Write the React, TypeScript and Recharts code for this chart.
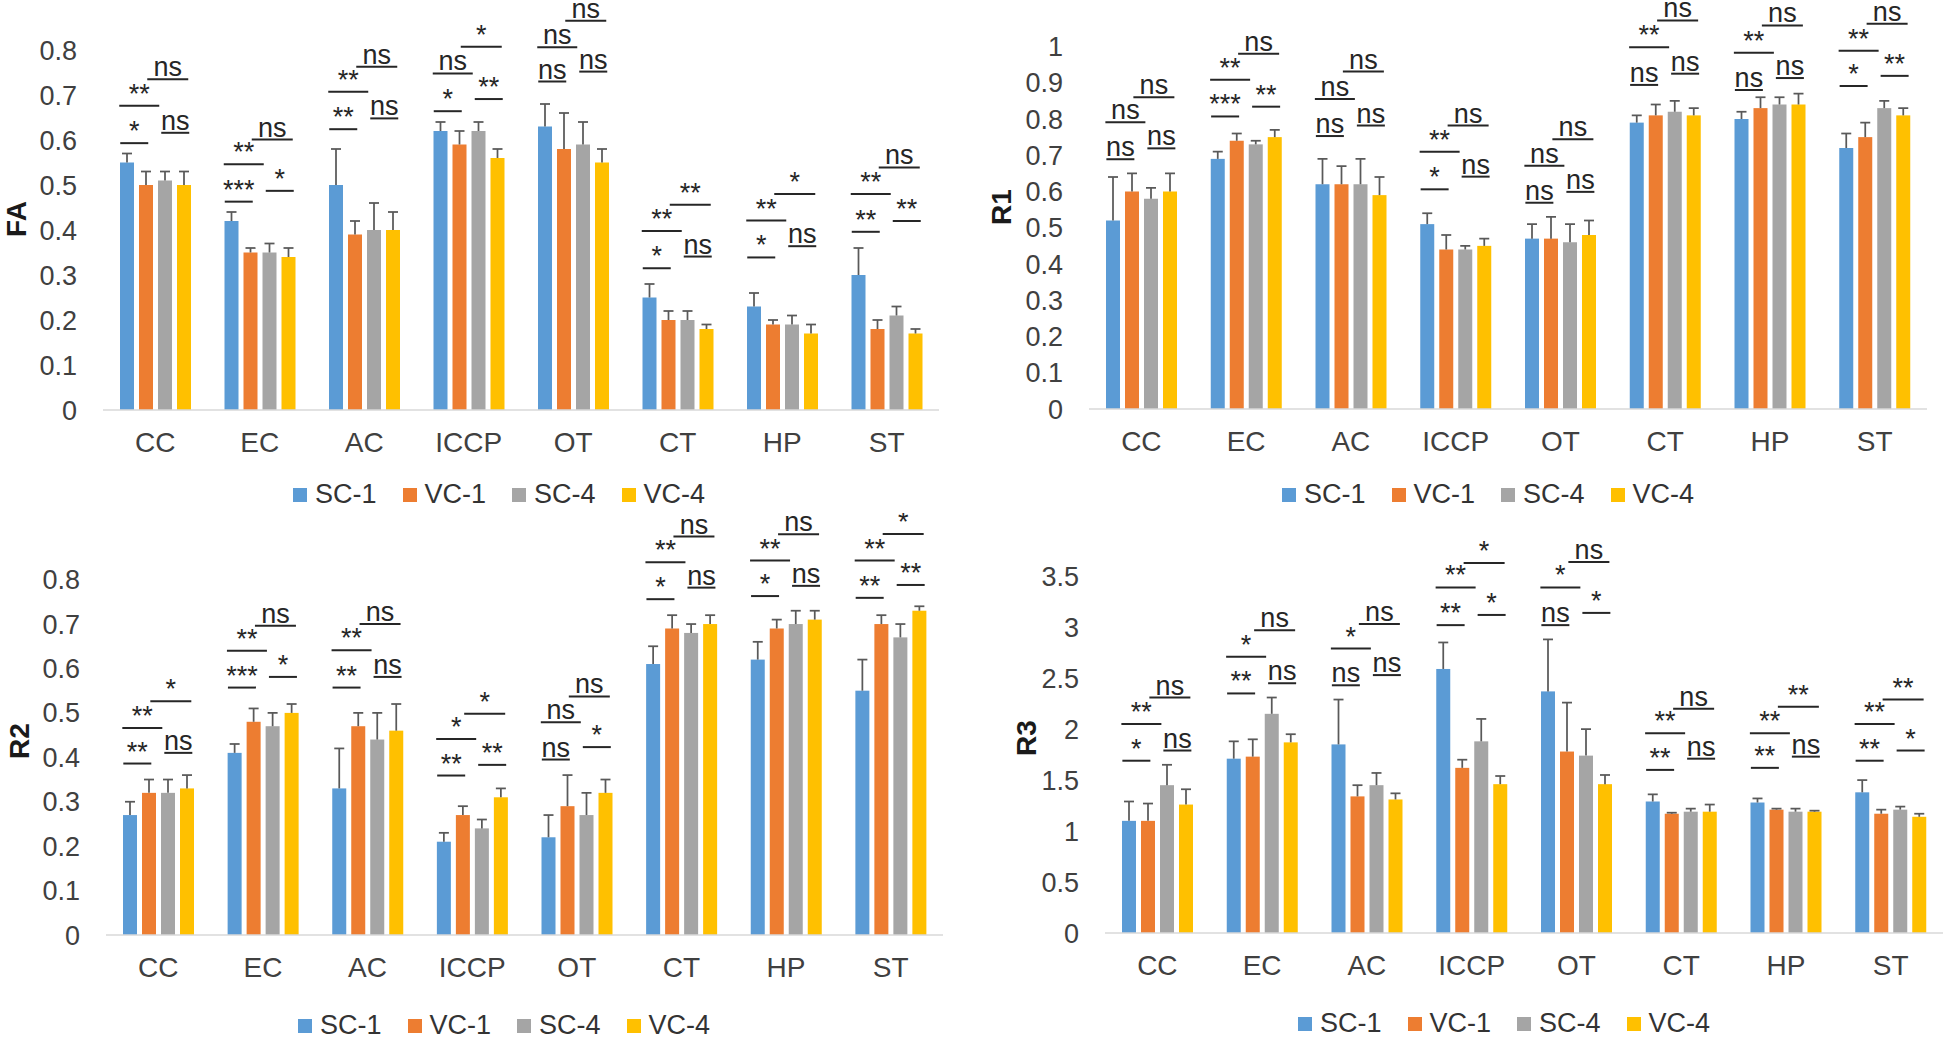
import { ComposedChart, Bar, Line, XAxis, YAxis, Legend } from "recharts";

const CATEGORIES = ["CC", "EC", "AC", "ICCP", "OT", "CT", "HP", "ST"];
const SERIES = ["SC-1", "VC-1", "SC-4", "VC-4"];
const SERIES_KEYS = ["sc1", "vc1", "sc4", "vc4"];
const COLORS = ["#5B9BD5", "#ED7D31", "#A5A5A5", "#FFC000"];
// significance brackets: SC-1/VC-1, SC-1/SC-4, SC-4/VC-4, VC-1/VC-4
const MARK_KEYS = ["ll", "lh", "rl", "rh"];
const MARK_SPANS: [number, number][] = [[-35, -7], [-36, 4], [6, 34], [-8, 33]];

// ---- FA
const FA_SC1 = [0.55, 0.42, 0.5, 0.62, 0.63, 0.25, 0.23, 0.3];
const FA_VC1 = [0.5, 0.35, 0.39, 0.59, 0.58, 0.2, 0.19, 0.18];
const FA_SC4 = [0.51, 0.35, 0.4, 0.62, 0.59, 0.2, 0.19, 0.21];
const FA_VC4 = [0.5, 0.34, 0.4, 0.56, 0.55, 0.18, 0.17, 0.17];
const FA_SC1_ERR = [0.02, 0.02, 0.08, 0.02, 0.05, 0.03, 0.03, 0.06];
const FA_VC1_ERR = [0.03, 0.01, 0.03, 0.03, 0.08, 0.02, 0.01, 0.02];
const FA_SC4_ERR = [0.02, 0.02, 0.06, 0.02, 0.05, 0.02, 0.02, 0.02];
const FA_VC4_ERR = [0.03, 0.02, 0.04, 0.02, 0.03, 0.01, 0.02, 0.01];
const FA_LL = ["*", "***", "**", "*", "ns", "*", "*", "**"];
const FA_LH = ["**", "**", "**", "ns", "ns", "**", "**", "**"];
const FA_RL = ["ns", "*", "ns", "**", "ns", "ns", "ns", "**"];
const FA_RH = ["ns", "ns", "ns", "*", "ns", "**", "*", "ns"];
const FA_LL_Y = [0.593, 0.463, 0.624, 0.664, 0.73, 0.315, 0.339, 0.396];
const FA_LH_Y = [0.676, 0.546, 0.707, 0.748, 0.806, 0.398, 0.421, 0.48];
const FA_RL_Y = [0.616, 0.487, 0.648, 0.691, 0.752, 0.341, 0.364, 0.42];
const FA_RH_Y = [0.735, 0.601, 0.763, 0.807, 0.865, 0.456, 0.48, 0.539];
const FA_TICKS = [0, 0.1, 0.2, 0.3, 0.4, 0.5, 0.6, 0.7, 0.8];

// ---- R1
const R1_SC1 = [0.52, 0.69, 0.62, 0.51, 0.47, 0.79, 0.8, 0.72];
const R1_VC1 = [0.6, 0.74, 0.62, 0.44, 0.47, 0.81, 0.83, 0.75];
const R1_SC4 = [0.58, 0.73, 0.62, 0.44, 0.46, 0.82, 0.84, 0.83];
const R1_VC4 = [0.6, 0.75, 0.59, 0.45, 0.48, 0.81, 0.84, 0.81];
const R1_SC1_ERR = [0.12, 0.02, 0.07, 0.03, 0.04, 0.02, 0.02, 0.04];
const R1_VC1_ERR = [0.05, 0.02, 0.05, 0.04, 0.06, 0.03, 0.03, 0.04];
const R1_SC4_ERR = [0.03, 0.01, 0.07, 0.01, 0.05, 0.03, 0.02, 0.02];
const R1_VC4_ERR = [0.05, 0.02, 0.05, 0.02, 0.04, 0.02, 0.03, 0.02];
const R1_LL = ["ns", "***", "ns", "*", "ns", "ns", "ns", "*"];
const R1_LH = ["ns", "**", "ns", "**", "ns", "**", "**", "**"];
const R1_RL = ["ns", "**", "ns", "ns", "ns", "ns", "ns", "**"];
const R1_RH = ["ns", "ns", "ns", "ns", "ns", "ns", "ns", "ns"];
const R1_LL_Y = [0.689, 0.807, 0.753, 0.606, 0.569, 0.894, 0.88, 0.891];
const R1_LH_Y = [0.791, 0.908, 0.855, 0.71, 0.671, 0.998, 0.983, 0.988];
const R1_RL_Y = [0.719, 0.834, 0.782, 0.641, 0.599, 0.925, 0.913, 0.919];
const R1_RH_Y = [0.86, 0.98, 0.931, 0.782, 0.744, 1.072, 1.058, 1.063];
const R1_TICKS = [0, 0.1, 0.2, 0.3, 0.4, 0.5, 0.6, 0.7, 0.8, 0.9, 1];

// ---- R2
const R2_SC1 = [0.27, 0.41, 0.33, 0.21, 0.22, 0.61, 0.62, 0.55];
const R2_VC1 = [0.32, 0.48, 0.47, 0.27, 0.29, 0.69, 0.69, 0.7];
const R2_SC4 = [0.32, 0.47, 0.44, 0.24, 0.27, 0.68, 0.7, 0.67];
const R2_VC4 = [0.33, 0.5, 0.46, 0.31, 0.32, 0.7, 0.71, 0.73];
const R2_SC1_ERR = [0.03, 0.02, 0.09, 0.02, 0.05, 0.04, 0.04, 0.07];
const R2_VC1_ERR = [0.03, 0.03, 0.03, 0.02, 0.07, 0.03, 0.02, 0.02];
const R2_SC4_ERR = [0.03, 0.03, 0.06, 0.02, 0.05, 0.02, 0.03, 0.03];
const R2_VC4_ERR = [0.03, 0.02, 0.06, 0.02, 0.03, 0.02, 0.02, 0.01];
const R2_LL = ["**", "***", "**", "**", "ns", "*", "*", "**"];
const R2_LH = ["**", "**", "**", "*", "ns", "**", "**", "**"];
const R2_RL = ["ns", "*", "ns", "**", "*", "ns", "ns", "**"];
const R2_RH = ["*", "ns", "ns", "*", "ns", "ns", "ns", "*"];
const R2_LL_Y = [0.386, 0.557, 0.557, 0.359, 0.395, 0.756, 0.763, 0.759];
const R2_LH_Y = [0.466, 0.64, 0.641, 0.441, 0.479, 0.839, 0.843, 0.843];
const R2_RL_Y = [0.41, 0.581, 0.581, 0.383, 0.423, 0.782, 0.786, 0.788];
const R2_RH_Y = [0.526, 0.696, 0.7, 0.498, 0.537, 0.897, 0.902, 0.903];
const R2_TICKS = [0, 0.1, 0.2, 0.3, 0.4, 0.5, 0.6, 0.7, 0.8];

// ---- R3
const R3_SC1 = [1.1, 1.71, 1.85, 2.59, 2.37, 1.29, 1.28, 1.38];
const R3_VC1 = [1.1, 1.73, 1.34, 1.62, 1.78, 1.17, 1.21, 1.17];
const R3_SC4 = [1.45, 2.15, 1.45, 1.88, 1.74, 1.19, 1.19, 1.21];
const R3_VC4 = [1.26, 1.87, 1.31, 1.46, 1.46, 1.19, 1.19, 1.14];
const R3_SC1_ERR = [0.19, 0.17, 0.44, 0.26, 0.51, 0.07, 0.04, 0.12];
const R3_VC1_ERR = [0.17, 0.17, 0.11, 0.08, 0.48, 0.01, 0.01, 0.04];
const R3_SC4_ERR = [0.2, 0.16, 0.12, 0.22, 0.26, 0.03, 0.03, 0.03];
const R3_VC4_ERR = [0.15, 0.08, 0.06, 0.08, 0.09, 0.07, 0.01, 0.03];
const R3_LL = ["*", "**", "ns", "**", "ns", "**", "**", "**"];
const R3_LH = ["**", "*", "*", "**", "*", "**", "**", "**"];
const R3_RL = ["ns", "ns", "ns", "*", "*", "ns", "ns", "*"];
const R3_RH = ["ns", "ns", "ns", "*", "ns", "ns", "**", "**"];
const R3_LL_Y = [1.69, 2.35, 2.43, 3.02, 3.02, 1.6, 1.62, 1.69];
const R3_LH_Y = [2.05, 2.71, 2.79, 3.39, 3.39, 1.96, 1.96, 2.05];
const R3_RL_Y = [1.79, 2.45, 2.53, 3.12, 3.14, 1.71, 1.73, 1.79];
const R3_RH_Y = [2.31, 2.97, 3.03, 3.63, 3.64, 2.2, 2.22, 2.29];
const R3_TICKS = [0, 0.5, 1, 1.5, 2, 2.5, 3, 3.5];

const FONT = "'Liberation Sans', Arial, sans-serif";

function buildRows(means: number[][], errs: number[][], ys: number[][], txts: string[][]) {
  return CATEGORIES.map((name, i) => {
    const row: Record<string, any> = { name };
    SERIES_KEYS.forEach((k, s) => {
      row[k] = means[s][i];
      row[k + "Err"] = errs[s][i];
    });
    MARK_KEYS.forEach((k, m) => {
      row[k] = ys[m][i];
      row[k + "Txt"] = txts[m][i];
    });
    return row;
  });
}

// bar with an upward-only error whisker, scaled from the bar's own pixel height
const barShape = (key: string) => (p: any) => {
  const { x, y, width, height, fill, payload } = p;
  const v = payload[key];
  const k = v ? height / v : 0;
  const top = y - payload[key + "Err"] * k;
  const cx = x + width / 2;
  return (
    <g>
      <rect x={x} y={y} width={width} height={height} fill={fill} />
      <line x1={cx} x2={cx} y1={y} y2={top} stroke="#595959" strokeWidth={1.75} />
      <line x1={cx - 5} x2={cx + 5} y1={top} y2={top} stroke="#595959" strokeWidth={1.75} />
    </g>
  );
};

const markDot = (key: string, span: [number, number]) => (p: any) => {
  const { cx, cy, payload, index } = p;
  if (cx == null || cy == null) return <g key={`${key}-${index}`} />;
  const x1 = cx + span[0];
  const x2 = cx + span[1];
  return (
    <g key={`${key}-${index}`}>
      <line x1={x1} x2={x2} y1={cy} y2={cy} stroke="#262626" strokeWidth={2} />
      <text x={(x1 + x2) / 2} y={cy - 3} textAnchor="middle" fontSize={27} fill="#262626" fontFamily={FONT}>
        {payload[key + "Txt"]}
      </text>
    </g>
  );
};

const renderLegend = (props: any) => {
  const items = (props.payload || [])
    .filter((e: any) => e.type !== "none")
    .slice()
    .sort((a: any, b: any) => SERIES.indexOf(a.value) - SERIES.indexOf(b.value));
  return (
    <div style={{ display: "flex", alignItems: "center", fontSize: 27, color: "#333", fontFamily: FONT, whiteSpace: "nowrap" }}>
      {items.map((e: any) => (
        <span key={e.value} style={{ display: "inline-flex", alignItems: "center", marginRight: 26 }}>
          <span style={{ display: "inline-block", width: 14, height: 14, background: e.color, marginRight: 8 }} />
          {e.value}
        </span>
      ))}
    </div>
  );
};

type PanelProps = {
  title: string;
  rows: Record<string, any>[];
  domain: [number, number];
  ticks: number[];
  left: number;
  top: number;
  width: number;
  height: number;
  yAxisWidth: number;
  margin: { top: number; right: number; bottom: number; left: number };
  titleX: number;
  titleY: number;
  legendLeft: number;
  legendTop: number;
};

function Panel(p: PanelProps) {
  return (
    <div style={{ position: "absolute", left: p.left, top: p.top, width: p.width, height: p.height }}>
      <ComposedChart width={p.width} height={p.height} data={p.rows} margin={p.margin} barSize={14} barGap={5} style={{ fontFamily: FONT }}>
        <XAxis
          dataKey="name"
          height={60}
          tickLine={false}
          tickSize={0}
          tickMargin={22}
          axisLine={{ stroke: "#D9D9D9", strokeWidth: 1.5 }}
          tick={{ fontSize: 28, fill: "#404040" }}
          interval={0}
        />
        <YAxis
          width={p.yAxisWidth}
          domain={p.domain}
          ticks={p.ticks}
          tickLine={false}
          tickSize={0}
          tickMargin={26}
          axisLine={false}
          tick={{ fontSize: 27, fill: "#404040" }}
          label={{
            content: () => (
              <text
                x={p.titleX}
                y={p.titleY}
                transform={`rotate(-90 ${p.titleX} ${p.titleY})`}
                textAnchor="middle"
                dominantBaseline="central"
                fontSize={28}
                fontWeight="bold"
                fill="#1a1a1a"
                fontFamily={FONT}
              >
                {p.title}
              </text>
            ),
          }}
        />
        {SERIES_KEYS.map((k, s) => (
          <Bar key={k} dataKey={k} name={SERIES[s]} fill={COLORS[s]} shape={barShape(k)} isAnimationActive={false} />
        ))}
        {MARK_KEYS.map((k, m) => (
          <Line
            key={k}
            dataKey={k}
            stroke="none"
            legendType="none"
            dot={markDot(k, MARK_SPANS[m])}
            activeDot={false}
            isAnimationActive={false}
          />
        ))}
        <Legend
          verticalAlign="middle"
          align="center"
          layout="horizontal"
          content={renderLegend}
          wrapperStyle={{ left: p.legendLeft, top: p.legendTop, width: "auto", height: "auto" }}
        />
      </ComposedChart>
    </div>
  );
}

export default function App() {
  const faRows = buildRows(
    [FA_SC1, FA_VC1, FA_SC4, FA_VC4],
    [FA_SC1_ERR, FA_VC1_ERR, FA_SC4_ERR, FA_VC4_ERR],
    [FA_LL_Y, FA_LH_Y, FA_RL_Y, FA_RH_Y],
    [FA_LL, FA_LH, FA_RL, FA_RH]
  );
  const r1Rows = buildRows(
    [R1_SC1, R1_VC1, R1_SC4, R1_VC4],
    [R1_SC1_ERR, R1_VC1_ERR, R1_SC4_ERR, R1_VC4_ERR],
    [R1_LL_Y, R1_LH_Y, R1_RL_Y, R1_RH_Y],
    [R1_LL, R1_LH, R1_RL, R1_RH]
  );
  const r2Rows = buildRows(
    [R2_SC1, R2_VC1, R2_SC4, R2_VC4],
    [R2_SC1_ERR, R2_VC1_ERR, R2_SC4_ERR, R2_VC4_ERR],
    [R2_LL_Y, R2_LH_Y, R2_RL_Y, R2_RH_Y],
    [R2_LL, R2_LH, R2_RL, R2_RH]
  );
  const r3Rows = buildRows(
    [R3_SC1, R3_VC1, R3_SC4, R3_VC4],
    [R3_SC1_ERR, R3_VC1_ERR, R3_SC4_ERR, R3_VC4_ERR],
    [R3_LL_Y, R3_LH_Y, R3_RL_Y, R3_RH_Y],
    [R3_LL, R3_LH, R3_RL, R3_RH]
  );

  return (
    <div style={{ position: "absolute", left: 0, top: 0, width: 1946, height: 1039, background: "#fff", overflow: "hidden" }}>
      <Panel
        title="FA"
        rows={faRows}
        domain={[0, 0.9]}
        ticks={FA_TICKS}
        left={0}
        top={0}
        width={960}
        height={515}
        yAxisWidth={103}
        margin={{ top: 5, right: 21, bottom: 45, left: 0 }}
        titleX={16}
        titleY={219}
        legendLeft={293}
        legendTop={479}
      />
      <Panel
        title="R1"
        rows={r1Rows}
        domain={[0, 1.12]}
        ticks={R1_TICKS}
        left={970}
        top={0}
        width={976}
        height={515}
        yAxisWidth={119}
        margin={{ top: 3, right: 19, bottom: 46, left: 0 }}
        titleX={31}
        titleY={207}
        legendLeft={312}
        legendTop={479}
      />
      <Panel
        title="R2"
        rows={r2Rows}
        domain={[0, 0.95]}
        ticks={R2_TICKS}
        left={0}
        top={513}
        width={960}
        height={526}
        yAxisWidth={106}
        margin={{ top: 0, right: 17, bottom: 44, left: 0 }}
        titleX={19}
        titleY={228}
        legendLeft={298}
        legendTop={497}
      />
      <Panel
        title="R3"
        rows={r3Rows}
        domain={[0, 4.12]}
        ticks={R3_TICKS}
        left={970}
        top={513}
        width={976}
        height={526}
        yAxisWidth={135}
        margin={{ top: 0, right: 3, bottom: 46, left: 0 }}
        titleX={56}
        titleY={225}
        legendLeft={328}
        legendTop={495}
      />
    </div>
  );
}
